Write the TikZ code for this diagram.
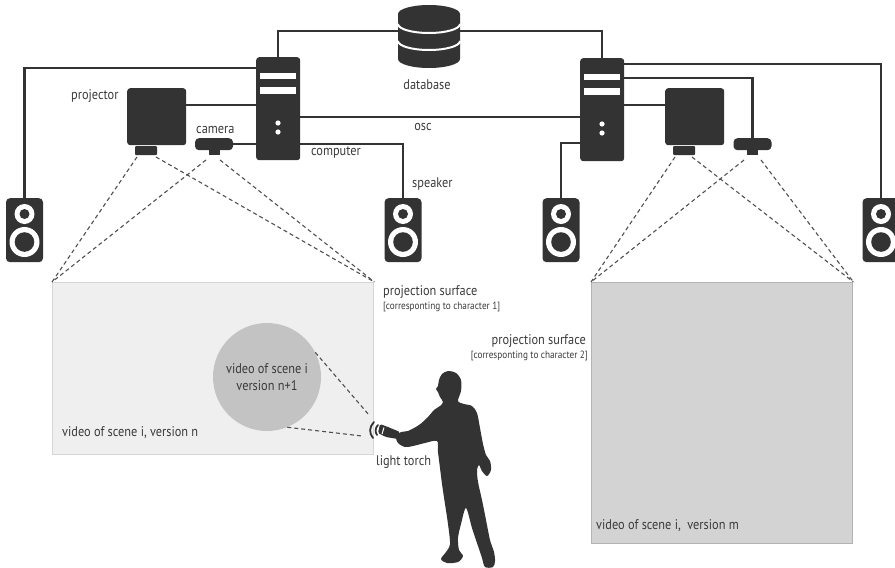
\documentclass[tikz,border=0pt]{standalone}
\usepackage{fontspec}
\setmainfont{PT Sans}[FakeStretch=0.88]
\usetikzlibrary{calc}

\definecolor{ink}{HTML}{333333}
\definecolor{txt}{HTML}{3A3A3A}
\definecolor{beamgray}{HTML}{505050}
\definecolor{surfAfill}{HTML}{EFEFEF}
\definecolor{surfAline}{HTML}{D6D6D6}
\definecolor{surfBfill}{HTML}{D3D3D3}
\definecolor{surfBline}{HTML}{B3B3B3}
\definecolor{spotfill}{HTML}{C3C3C3}

% tower computer: name, left x, top y
\newcommand\drawtower[3]{%
  \node[device, minimum width=44pt, minimum height=103pt, anchor=north west] (#1) at (#2,#3) {};
  \fill[white] (#2+4,#3+16) rectangle (#2+40,#3+22);
  \fill[white] (#2+4,#3+30) rectangle (#2+40,#3+37);
  \fill[white] (#2+22,#3+66) circle (2.6pt);
  \fill[white] (#2+22,#3+75) circle (2.6pt);
}
% loudspeaker: name, centre x
\newcommand\drawspeaker[2]{%
  \node[device, rounded corners=4pt, minimum width=37pt, minimum height=64pt, anchor=north] (#1) at (#2,198) {};
  \fill[white] (#2,214) circle (10pt);
  \fill[ink]   (#2,214) circle (5pt);
  \fill[white] (#2,242) circle (15pt);
  \fill[ink]   (#2,242) circle (9.8pt);
}
% projector: name, left x
\newcommand\drawprojector[2]{%
  \node[device, minimum width=59pt, minimum height=57pt, anchor=north west] (#1) at (#2,88) {};
  \fill[ink, rounded corners=1pt] (#2+8,146) rectangle (#2+30,155);
}
% camera: name, centre x
\newcommand\drawcamera[2]{%
  \node[device, rounded corners=4pt, minimum width=38pt, minimum height=12pt, anchor=north] (#1) at (#2,138) {};
  \fill[ink] (#2-5.5,149) rectangle (#2+5.5,155);
}

\begin{document}
\begin{tikzpicture}[x=1pt,y=-1pt,
  wire/.style={draw=ink, line width=2.4pt},
  beam/.style={draw=beamgray, dash pattern=on 4pt off 3pt, line width=1.1pt},
  lbl/.style={text=txt, font=\fontsize{14}{17}\selectfont, inner sep=0pt},
  note/.style={text=txt, font=\fontsize{10.5}{12}\selectfont, inner sep=0pt},
  device/.style={fill=ink, rounded corners=3pt, inner sep=0pt, draw=none},
  surface/.style={line width=1.4pt, inner sep=0pt, anchor=north west}]

\useasboundingbox (0,0) rectangle (895,568);

% projection surfaces
\node[surface, draw=surfAline, fill=surfAfill, minimum width=321pt, minimum height=172pt] (surf1) at (52,282) {};
\node[surface, draw=surfBline, fill=surfBfill, minimum width=261pt, minimum height=261pt] (surf2) at (591,282) {};

% lens points of projectors and cameras
\coordinate (pL1) at (137,157);
\coordinate (pL2) at (156,157);
\coordinate (cL1) at (206,160);
\coordinate (cL2) at (220,160);
\coordinate (pR1) at (675,157);
\coordinate (pR2) at (692,157);
\coordinate (cR1) at (744,160);
\coordinate (cR2) at (761,160);

% projection and capture cones
\draw[beam] (pL1) -- (surf1.north west);
\draw[beam] (pL2) -- (surf1.north east);
\draw[beam] (cL1) -- (surf1.north west);
\draw[beam] (cL2) -- (surf1.north east);
\draw[beam] (pR1) -- (surf2.north west);
\draw[beam] (pR2) -- (surf2.north east);
\draw[beam] (cR1) -- (surf2.north west);
\draw[beam] (cR2) -- (surf2.north east);

% database node (drawn below)
\node[inner sep=0pt, minimum width=62pt, minimum height=63pt] (db) at (429,36.5) {};

% devices
\drawtower{towerL}{256}{57}
\drawtower{towerR}{580}{58}
\drawprojector{projL}{127}
\drawprojector{projR}{665}
\drawcamera{camL}{214}
\drawcamera{camR}{752.5}
\drawspeaker{spk1}{24.5}
\drawspeaker{spk2}{403}
\drawspeaker{spk3}{561}
\drawspeaker{spk4}{881}

% cabling
\draw[wire] (towerL.north) |- ([yshift=5.5pt]db.center) -| (towerR.north);
\draw[wire] (towerL.west |- 0,68) -| (spk1.north);
\draw[wire] (projL.east |- 0,105) -- (towerL.west |- 0,105);
\draw[wire] (camL.east) -- (towerL.west |- camL.east);
\draw[wire] (towerL.east |- 0,117) -- (towerR.west |- 0,117);
\draw[wire] (towerL.east |- 0,144) -| (spk2.north);
\draw[wire] (towerR.west |- 0,143) -| (spk3.north);
\draw[wire] (towerR.east |- 0,64) -| (spk4.north);
\draw[wire] (towerR.east |- 0,78) -| (camR.north);
\draw[wire] (towerR.east |- 0,105) -- (projR.west |- 0,105);

% database cylinder
\fill[ink] (398,14) -- (398,59) arc[start angle=180,end angle=360,x radius=31pt,y radius=9pt]
  -- (460,14) arc[start angle=0,end angle=180,x radius=31pt,y radius=9pt] -- cycle;
\draw[white, line width=2pt] (398,24) arc[start angle=180,end angle=360,x radius=31pt,y radius=9pt];
\draw[white, line width=2pt] (398,41) arc[start angle=180,end angle=360,x radius=31pt,y radius=9pt];

% torch spot on the first surface
\node[circle, fill=spotfill, inner sep=0pt, minimum size=108pt] (spot) at (267,377) {};
\node[lbl, align=center] at (spot) {video of scene i\\version n+1};

\coordinate (beamA) at (369,415);
\coordinate (beamB) at (362,436);
\draw[beam] (spot.27) -- (beamA);
\draw[beam] (spot.-68) -- (beamB);

% torch with light waves
\fill[ink, rounded corners=1.5pt] (380,424) -- (388,427) -- (400,432) -- (398,439) -- (386,437) -- (378,433) -- cycle;
\draw[white, line width=1pt] (384,427.5) -- (382,434);
\draw[ink, line width=1.8pt, line cap=round] (374,422) .. controls (369,427) and (369,433) .. (373,438);
\draw[ink, line width=1.8pt, line cap=round] (378,425) .. controls (375,428) and (375,432) .. (377,435);

% person silhouette
\fill[ink] plot[smooth cycle, tension=0.5] coordinates {
  (448,371) (456,373) (461,380) (461,391) (458,401) (464,404) (472,406)
  (477,413) (480,428) (483,444) (486,455) (490,461) (491,470) (487,476)
  (482,471) (479,465) (477,470) (478,482) (482,500) (486,520) (490,540)
  (494,552) (495,561) (493,567) (485,567) (482,558) (478,546) (472,528)
  (466,508) (461,524) (458,538) (459,550) (463,556) (458,562) (447,563)
  (441,559) (446,552) (450,544) (448,524) (445,504) (442,484) (440,468)
  (438,452) (437,441) (425,443) (413,446) (405,447) (398,443) (396,437)
  (401,432) (408,431) (419,425) (428,417) (434,410) (440,406) (443,402)
  (440,397) (438,392) (436,389) (438,386) (439,380) (442,374)};

% labels
\node[lbl, anchor=mid west] at (71,97) {projector};
\node[lbl, anchor=mid west] at (196,131) {camera};
\node[lbl, anchor=mid west] at (311,153) {computer};
\node[lbl, anchor=mid] at (423,128) {osc};
\node[lbl, anchor=mid] at (427,87) {database};
\node[lbl, anchor=mid west] at (412,185) {speaker};
\node[lbl, anchor=mid west] at (383,293) {projection surface};
\node[note, anchor=mid west] at (383,307) {[corresponting to character 1]};
\node[lbl, anchor=mid east] at (586,342) {projection surface};
\node[note, anchor=mid east] at (588,356) {[corresponting to character 2]};
\node[lbl, anchor=mid west] at (62,434) {video of scene i, version n};
\node[lbl, anchor=mid west] at (376,463) {light torch};
\node[lbl, anchor=mid west] at (596,527) {video of scene i,\ \ version m};

\end{tikzpicture}
\end{document}
